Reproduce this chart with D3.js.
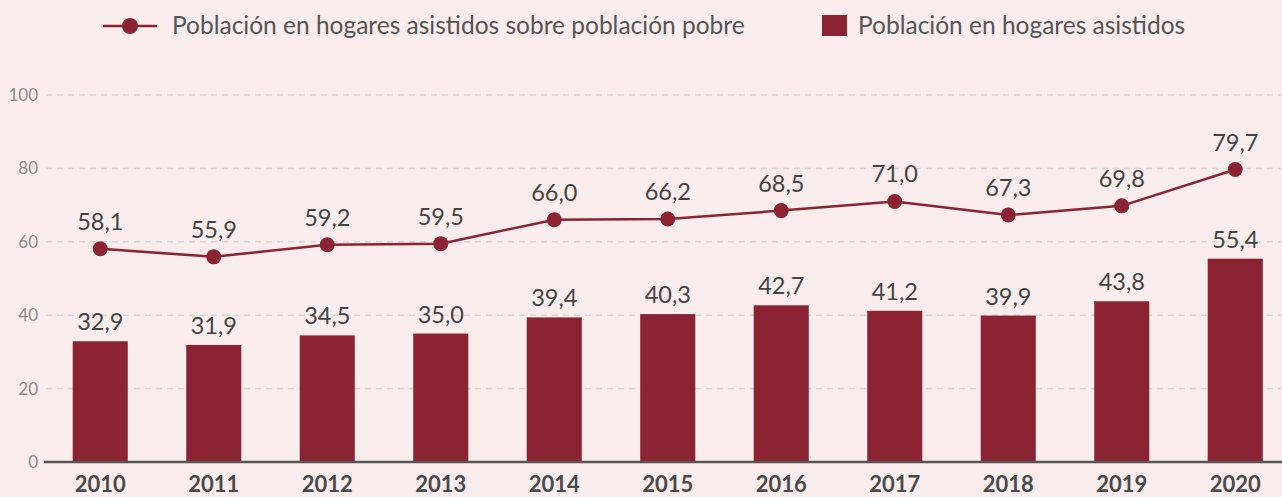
<!DOCTYPE html>
<html><head><meta charset="utf-8">
<script src="https://cdn.jsdelivr.net/npm/d3@7"></script>
<style>
html,body{margin:0;padding:0;background:#f8ecec;}
svg{display:block;font-family:Lato,"Open Sans",sans-serif;}
</style></head>
<body><svg id="c" width="1282" height="497"></svg>
<script>
const years = ["2010","2011","2012","2013","2014","2015","2016","2017","2018","2019","2020"];
const ratioValues = [58.1,55.9,59.2,59.5,66.0,66.2,68.5,71.0,67.3,69.8,79.7];
const barValues = [32.9,31.9,34.5,35.0,39.4,40.3,42.7,41.2,39.9,43.8,55.4];
const yTicks = [0,20,40,60,80,100];
const legendLine = "Población en hogares asistidos sobre población pobre";
const legendBar = "Población en hogares asistidos";

const W=1282,H=497;
const red="#8b2332";
const svg=d3.select("#c");
svg.append("rect").attr("width",W).attr("height",H).attr("fill","#f8ecec");

const x=d3.scaleBand().domain(years).range([43.5,1292]).paddingInner(0.515).paddingOuter(0.2575);
const y=d3.scaleLinear().domain([0,100]).range([462,95]);
const fmt=v=>v.toFixed(1).replace(".",",");

// grid
const yAxis=d3.axisLeft(y).tickValues(yTicks).tickSize(0).tickPadding(0).tickFormat(d=>d);
const ga=svg.append("g").attr("transform","translate(38,0)").call(yAxis);
ga.select(".domain").remove();
ga.selectAll("text").attr("fill","#8a8a8a").style("font-size","17px").style("font-family","Lato,sans-serif");
svg.append("g").selectAll("line").data(yTicks.filter(d=>d>0)).join("line")
  .attr("x1",46).attr("x2",W).attr("y1",d=>y(d)).attr("y2",d=>y(d))
  .attr("stroke","#d9d4d4").attr("stroke-width",1.5).attr("stroke-dasharray","6,5");

// bars
svg.append("g").selectAll("rect").data(barValues).join("rect")
  .attr("x",(d,i)=>x(years[i])).attr("width",x.bandwidth())
  .attr("y",d=>y(d)).attr("height",d=>y(0)-y(d)).attr("fill",red);

// x axis
const xAxis=d3.axisBottom(x).tickSize(0).tickPadding(0);
const gx=svg.append("g").attr("transform","translate(0,462)").call(xAxis);
gx.select(".domain").remove();
gx.selectAll("text").attr("dy",null).attr("y",30).attr("fill","#4a4a4a")
  .style("font-size","22px").style("font-weight","bold").style("font-family","Lato,sans-serif");
svg.append("line").attr("x1",44).attr("x2",W).attr("y1",462).attr("y2",462)
  .attr("stroke","#555").attr("stroke-width",2.5);

// bar labels
svg.append("g").selectAll("text").data(barValues).join("text")
  .attr("x",(d,i)=>x(years[i])+x.bandwidth()/2).attr("y",d=>y(d)-11)
  .attr("text-anchor","middle").attr("fill","#444").style("font-size","23.5px")
  .text(fmt);

// line
const cx=(d,i)=>x(years[i])+x.bandwidth()/2;
const line=d3.line().x(cx).y(d=>y(d));
svg.append("path").datum(ratioValues).attr("d",line).attr("fill","none")
  .attr("stroke",red).attr("stroke-width",2.5);
svg.append("g").selectAll("circle").data(ratioValues).join("circle")
  .attr("cx",cx).attr("cy",d=>y(d)).attr("r",7.5).attr("fill",red);
svg.append("g").selectAll("text").data(ratioValues).join("text")
  .attr("x",cx).attr("y",d=>y(d)-19)
  .attr("text-anchor","middle").attr("fill","#444").style("font-size","23.5px")
  .text(fmt);

// legend
const lg=svg.append("g");
lg.append("line").attr("x1",103).attr("x2",157).attr("y1",26).attr("y2",26).attr("stroke",red).attr("stroke-width",2.5);
lg.append("circle").attr("cx",130).attr("cy",26).attr("r",8).attr("fill",red);
lg.append("text").attr("x",172).attr("y",34).attr("fill","#555").style("font-size","24.5px").text(legendLine);
lg.append("rect").attr("x",822).attr("y",15).attr("width",25).attr("height",21).attr("fill",red);
lg.append("text").attr("x",858).attr("y",34).attr("fill","#555").style("font-size","24.5px").text(legendBar);
</script></body></html>
